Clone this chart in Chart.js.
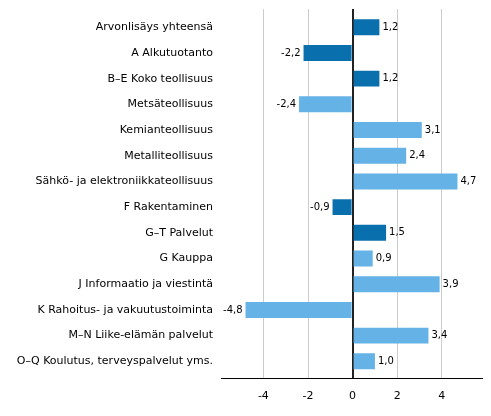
<!DOCTYPE html>
<html>
<head>
<meta charset="utf-8">
<script src="https://cdn.jsdelivr.net/npm/chart.js@4/dist/chart.umd.min.js"></script>
<style>
  html, body { margin: 0; padding: 0; background: #fff; }
  #wrap { width: 491px; height: 416px; }
</style>
</head>
<body>
<div id="wrap"><canvas id="chart"></canvas></div>
<script>
// Toimialat ja muutokset (%)
const categories = [
  'Arvonlisäys yhteensä',
  'A Alkutuotanto',
  'B–E Koko teollisuus',
  'Metsäteollisuus',
  'Kemianteollisuus',
  'Metalliteollisuus',
  'Sähkö- ja elektroniikkateollisuus',
  'F Rakentaminen',
  'G–T Palvelut',
  'G Kauppa',
  'J Informaatio ja viestintä',
  'K Rahoitus- ja vakuutustoiminta',
  'M–N Liike-elämän palvelut',
  'O–Q Koulutus, terveyspalvelut yms.'
];
const values = [1.2, -2.2, 1.2, -2.4, 3.1, 2.4, 4.7, -0.9, 1.5, 0.9, 3.9, -4.8, 3.4, 1.0];
// pääluokka = tumma sininen
const isMain = [true, true, true, false, false, false, false, true, true, false, false, false, false, false];
const xTicks = [-4, -2, 0, 2, 4];

const darkBlue = '#0a6fad';
const lightBlue = '#64b2e6';

const points = values.map((v, i) => ({ x: v, y: i }));

// arvot palkkien päihin
const valueLabels = {
  id: 'valueLabels',
  afterDatasetsDraw(chart) {
    const ctx = chart.ctx;
    const meta = chart.getDatasetMeta(0);
    ctx.save();
    ctx.font = '10px "DejaVu Sans"';
    ctx.fillStyle = '#000';
    ctx.textBaseline = 'middle';
    meta.data.forEach((bar, i) => {
      const v = values[i];
      const txt = v.toFixed(1).replace('.', ',');
      if (v >= 0) {
        ctx.textAlign = 'left';
        ctx.fillText(txt, bar.x + 3, bar.y);
      } else {
        ctx.textAlign = 'right';
        ctx.fillText(txt, bar.x - 3, bar.y);
      }
    });
    ctx.restore();
  }
};

new Chart(document.getElementById('chart'), {
  type: 'bar',
  data: {
    datasets: [{
      data: points,
      backgroundColor: isMain.map(m => m ? darkBlue : lightBlue),
      borderWidth: 0,
      barPercentage: 0.62,
      categoryPercentage: 1
    }]
  },
  options: {
    indexAxis: 'y',
    responsive: true,
    maintainAspectRatio: false,
    animation: false,
    layout: { padding: { top: 9, right: 9, bottom: 2, left: 0 } },
    plugins: {
      legend: { display: false },
      tooltip: { enabled: false }
    },
    scales: {
      x: {
        type: 'linear',
        min: -5.9,
        max: 5.8,
        afterBuildTicks: (scale) => { scale.ticks = xTicks.map(v => ({ value: v })); },
        grid: {
          color: (c) => c.tick && c.tick.value === 0 ? '#222' : '#cccccc',
          lineWidth: (c) => c.tick && c.tick.value === 0 ? 2 : 1,
          drawTicks: false
        },
        border: { display: true, color: '#000', width: 1 },
        ticks: {
          color: '#000',
          padding: 11,
          font: { family: 'DejaVu Sans', size: 11 },
          callback: (v) => String(v)
        }
      },
      y: {
        type: 'linear',
        reverse: true,
        offset: false,
        min: -0.71,
        max: 13.68,
        afterBuildTicks: (scale) => { scale.ticks = categories.map((c, i) => ({ value: i })); },
        afterFit: (scale) => {
          scale.width = 221;
          scale.paddingTop = 0;
          scale.paddingBottom = 0;
        },
        grid: { display: false, drawTicks: false },
        border: { display: false },
        ticks: {
          color: '#000',
          padding: 8,
          font: { family: 'DejaVu Sans', size: 11 },
          callback: (v) => categories[v]
        }
      }
    }
  },
  plugins: [valueLabels]
});
</script>
</body>
</html>
